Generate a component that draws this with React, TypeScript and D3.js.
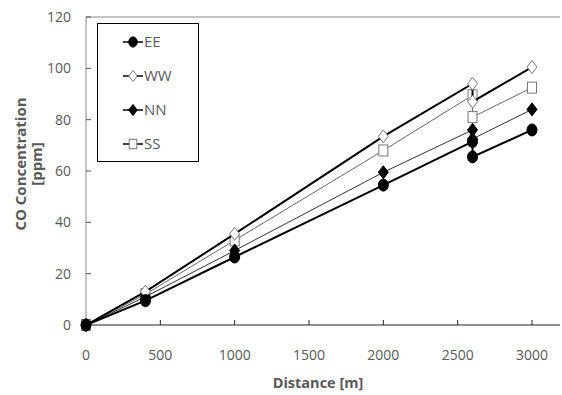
import React from 'react';
import * as d3 from 'd3';

// distance [m]; 2600 appears twice in the source (step down at that point)
const distance = [0, 400, 1000, 2000, 2600, 2600, 3000];
const seriesNames = ['EE', 'WW', 'NN', 'SS'];
const EE = [0, 9.5, 26.5, 54.5, 71.5, 65.5, 76];
const WW = [0, 13, 35.5, 73.5, 94, 87, 100.5];
const NN = [0, 11, 29, 59.5, 76, 72.5, 84];
const SS = [0, 12, 33, 68, 89.5, 81, 92.5];
const xTicks = [0, 500, 1000, 1500, 2000, 2500, 3000];
const yTicks = [0, 20, 40, 60, 80, 100, 120];

const W = 562;
const H = 395;
const margin = { top: 17, right: 2, bottom: 70, left: 86 };

const styles: Record<string, { stroke: string; width: number; marker: string; fill: string; mstroke: string }> = {
  EE: { stroke: '#000', width: 2, marker: 'circle', fill: '#000', mstroke: '#000' },
  WW: { stroke: '#000', width: 2, marker: 'diamond', fill: '#fff', mstroke: '#777' },
  NN: { stroke: '#333', width: 1, marker: 'diamond', fill: '#000', mstroke: '#000' },
  SS: { stroke: '#666', width: 1, marker: 'square', fill: '#fff', mstroke: '#777' },
};

function Marker({ kind, x, y, fill, stroke, s = 1 }: any) {
  if (kind === 'circle') {
    return <ellipse cx={x} cy={y} rx={5 * s} ry={6 * s} fill={fill} stroke={stroke} />;
  }
  if (kind === 'diamond') {
    const w = 5 * s, h = 6.5 * s;
    return (
      <path
        d={`M${x},${y - h}L${x + w},${y}L${x},${y + h}L${x - w},${y}Z`}
        fill={fill}
        stroke={stroke}
        strokeWidth={1}
      />
    );
  }
  const w = 4.5 * s, h = 5.5 * s;
  return <rect x={x - w} y={y - h} width={2 * w} height={2 * h} fill={fill} stroke={stroke} strokeWidth={1} />;
}

export default function App() {
  const innerW = W - margin.left - margin.right;
  const x = d3.scaleLinear().domain([0, 3000]).range([margin.left, 532]);
  const y = d3.scaleLinear().domain([0, 120]).range([H - margin.bottom, margin.top]);
  const data: Record<string, number[]> = { EE, WW, NN, SS };
  const line = d3
    .line<[number, number]>()
    .x((d) => x(d[0]))
    .y((d) => y(d[1]));

  const font = "'Open Sans', 'DejaVu Sans', sans-serif";
  const txt = '#595959';
  const axisRight = margin.left + innerW;

  return (
    <svg width={W} height={H} style={{ position: 'absolute', left: 0, top: 0, background: '#fff' }} fontFamily={font}>
      {/* plot frame */}
      <line x1={margin.left} x2={axisRight} y1={y(120)} y2={y(120)} stroke="#888" />
      <line x1={margin.left} x2={margin.left} y1={y(0)} y2={y(120)} stroke="#888" />
      <line x1={margin.left} x2={axisRight} y1={y(0)} y2={y(0)} stroke="#222" />

      {yTicks.map((t) => (
        <g key={'y' + t}>
          <line x1={margin.left} x2={margin.left + 5} y1={y(t)} y2={y(t)} stroke="#555" />
          <text x={71} y={y(t)} dy="0.35em" textAnchor="end" fontSize={14} fill={txt}>
            {t}
          </text>
        </g>
      ))}
      {xTicks.map((t) => (
        <g key={'x' + t}>
          {t > 0 && <line x1={x(t)} x2={x(t)} y1={y(0)} y2={y(0) - 5} stroke="#222" />}
          <text x={x(t)} y={355} dy="0.35em" textAnchor="middle" fontSize={14} fill={txt}>
            {t}
          </text>
        </g>
      ))}

      <text x={318} y={383} dy="0.35em" textAnchor="middle" fontSize={14.5} fontWeight="bold" fill={txt}>
        Distance [m]
      </text>
      <g transform="translate(21,164) rotate(-90)">
        <text x={0} y={0} dy="0.35em" textAnchor="middle" fontSize={15} fontWeight="bold" fill={txt}>
          CO Concentration
        </text>
        <text x={0} y={16} dy="0.35em" textAnchor="middle" fontSize={15} fontWeight="bold" fill={txt}>
          [ppm]
        </text>
      </g>

      {[...seriesNames].reverse().map((name) => {
        const st = styles[name];
        const pts = distance.map((d, i) => [d, data[name][i]] as [number, number]);
        return (
          <g key={name}>
            <path d={line(pts) || ''} fill="none" stroke={st.stroke} strokeWidth={st.width} />
            {pts.map((p, i) => (
              <Marker key={i} kind={st.marker} x={x(p[0])} y={y(p[1])} fill={st.fill} stroke={st.mstroke} />
            ))}
          </g>
        );
      })}

      {/* legend */}
      <rect x={97.5} y={23.5} width={101} height={138} fill="#fff" stroke="#000" />
      {seriesNames.map((name, i) => {
        const st = styles[name];
        const ly = 42 + i * 34;
        return (
          <g key={'lg' + name}>
            <line x1={123} x2={143} y1={ly} y2={ly} stroke="#000" strokeWidth={1.5} />
            <Marker kind={st.marker} x={133} y={ly} fill={st.fill} stroke={st.mstroke} s={0.85} />
            <text x={144} y={ly} dy="0.35em" fontSize={15} fill={txt}>
              {name}
            </text>
          </g>
        );
      })}
    </svg>
  );
}
